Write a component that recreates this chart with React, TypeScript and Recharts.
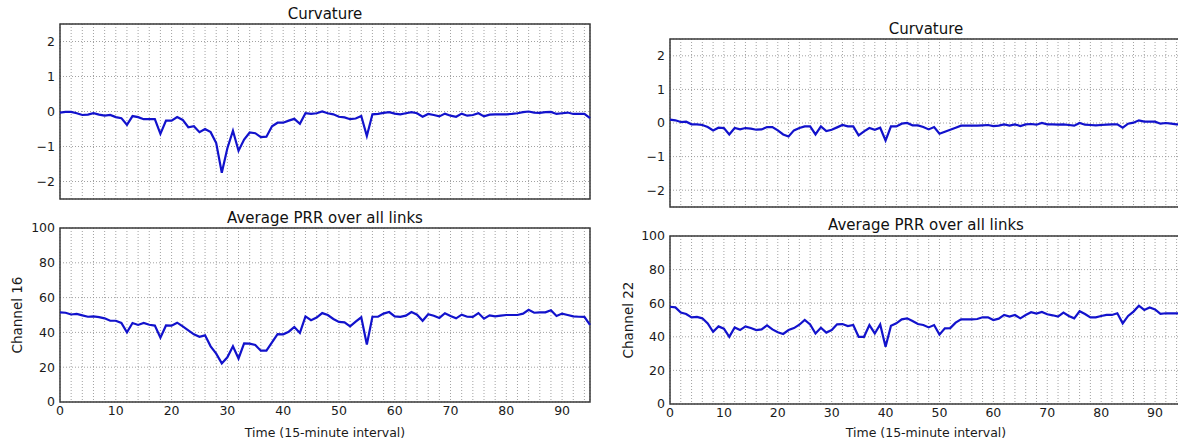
import React from "react";
import {
  LineChart,
  Line,
  XAxis,
  YAxis,
  CartesianGrid,
  ReferenceArea,
} from "recharts";

// curvature, left column (channel 16)
const curvatureCh16 = [
  -0.03, -0.01, -0.01, -0.05, -0.1, -0.09, -0.05, -0.09, -0.12, -0.1,
  -0.16, -0.19, -0.38, -0.13, -0.16, -0.22, -0.22, -0.22, -0.64, -0.26,
  -0.26, -0.16, -0.24, -0.45, -0.42, -0.59, -0.5, -0.59, -0.9, -1.75,
  -1.05, -0.55, -1.12, -0.8, -0.6, -0.62, -0.73, -0.72, -0.42, -0.32,
  -0.32, -0.26, -0.21, -0.35, -0.05, -0.07, -0.05, 0.0, -0.05, -0.08,
  -0.15, -0.17, -0.22, -0.2, -0.13, -0.7, -0.08, -0.07, -0.04, -0.02,
  -0.06, -0.08, -0.05, -0.02, -0.05, -0.15, -0.07, -0.1, -0.14, -0.06,
  -0.12, -0.15, -0.06, -0.12, -0.1, -0.05, -0.14, -0.09, -0.08, -0.08,
  -0.08, -0.07, -0.05, -0.02, 0.0, -0.03, -0.04, -0.02, -0.01, -0.07,
  -0.05, -0.03, -0.07, -0.07, -0.07, -0.19,
];

// average PRR, channel 16
const prrCh16 = [
  51.5, 51.3, 50.3, 50.6, 49.8, 49, 49.2, 48.8, 48.1, 46.7,
  46.7, 45.4, 40, 45.4, 44.3, 45.4, 44.4, 43.9, 37, 44,
  43.9, 45.6, 43.5, 41.2, 38.9, 37.5, 38.3, 32, 27.8, 22.2,
  25.7, 32, 25, 33.7, 33.5, 32.8, 29.5, 29.5, 34.3, 39,
  38.9, 40.4, 43.1, 39.7, 49.2, 47, 48.5, 51.1, 50, 47.7,
  46, 45.8, 43.5, 46.2, 48.7, 33, 49, 49, 50.8, 51.7,
  49.2, 48.9, 49.6, 51.7, 50.2, 46.7, 50.4, 49.6, 48.3, 51,
  49.4, 48.1, 50.2, 49, 48.9, 51.1, 47.9, 49.8, 49.2, 49.6,
  50, 50, 50, 50.8, 53, 51.3, 51.5, 51.5, 52.7, 49.4,
  50.8, 50, 49.2, 49, 48.9, 44.3,
];

// curvature, right column (channel 22)
const curvatureCh22 = [
  0.1, 0.08, 0.03, 0.04, -0.04, -0.04, -0.06, -0.12, -0.22, -0.14,
  -0.15, -0.34, -0.15, -0.19, -0.15, -0.17, -0.2, -0.19, -0.12, -0.12,
  -0.22, -0.34, -0.4, -0.22, -0.15, -0.1, -0.1, -0.34, -0.1, -0.24,
  -0.2, -0.13, -0.06, -0.1, -0.1, -0.37, -0.25, -0.15, -0.2, -0.14,
  -0.52, -0.1, -0.1, -0.02, 0.0, -0.07, -0.07, -0.12, -0.19, -0.12,
  -0.32, -0.26, -0.2, -0.14, -0.08, -0.08, -0.08, -0.08, -0.07, -0.06,
  -0.09, -0.08, -0.04, -0.08, -0.04, -0.09, -0.04, -0.03, -0.05, 0.0,
  -0.04, -0.04, -0.05, -0.04, -0.06, -0.08, 0.0, -0.05, -0.06, -0.07,
  -0.06, -0.05, -0.04, -0.04, -0.14, -0.02, 0.01, 0.08, 0.04, 0.04,
  0.04, -0.02, 0.0, -0.02, -0.04, -0.04,
];

// average PRR, channel 22
const prrCh22 = [
  57.9, 57.5, 54.4, 53.6, 51.6, 51.8, 51, 48, 43, 46.2,
  44.8, 40, 45.6, 44, 46.2, 45.2, 44, 44.4, 46.8, 44.4,
  42.7, 41.7, 44, 45.2, 47.2, 50, 47.4, 42, 45.4, 42.5,
  44, 47.4, 47.6, 46.4, 47, 40, 40, 47, 42, 47.4,
  34.1, 46.6, 48, 50.4, 51, 49.4, 47.6, 47, 45.6, 47,
  41.3, 45, 45.2, 48.4, 50.4, 50.4, 50.4, 50.6, 51.6, 51.6,
  50, 50.8, 53, 52, 53, 51, 53, 54.6, 53.8, 54.8,
  53.4, 52.8, 52, 54.4, 52.4, 51, 55.2, 53.6, 51.6, 51.6,
  52.4, 53, 53, 54, 48, 52.4, 55, 58.5, 56, 57.5,
  56.3, 53.6, 54, 54, 54, 54,
];

// x grid every 2 intervals, labels every 10
const xTicks = [
  0, 2, 4, 6, 8, 10, 12, 14, 16, 18, 20, 22, 24, 26, 28, 30, 32, 34, 36, 38,
  40, 42, 44, 46, 48, 50, 52, 54, 56, 58, 60, 62, 64, 66, 68, 70, 72, 74, 76,
  78, 80, 82, 84, 86, 88, 90, 92, 94,
];
const xLabelTicks = [0, 10, 20, 30, 40, 50, 60, 70, 80, 90];
const curvatureTicks = [-2, -1, 0, 1, 2];
const prrTicks = [0, 20, 40, 60, 80, 100];

const FONT = "'DejaVu Sans', Verdana, sans-serif";
const LINE = "#1212cc";
const FRAME = "#3a3a3a";

const fmtMinus = (v: number) => (v < 0 ? "\u2212" + Math.abs(v) : String(v));

type PanelProps = {
  left: number;
  top: number;
  width: number;
  height: number;
  margin: { top: number; right: number; bottom: number; left: number };
  values: number[];
  yDomain: [number, number];
  yTicks: number[];
  yAxisWidth: number;
  xAxisHeight: number;
  showX: boolean;
  yLabel?: string;
  yLabelOffset?: number;
  title: string;
  titleX: number;
  titleY: number;
};

function Panel(p: PanelProps) {
  const data = p.values.map((v, i) => ({ t: i, v }));
  return (
    <>
      <div
        style={{
          position: "absolute",
          left: p.titleX - 150,
          top: p.titleY - 9,
          width: 300,
          textAlign: "center",
          fontSize: 15,
          lineHeight: "18px",
          color: "#111",
        }}
      >
        {p.title}
      </div>
      <div style={{ position: "absolute", left: p.left, top: p.top }}>
        <LineChart width={p.width} height={p.height} data={data} margin={p.margin}>
          <CartesianGrid
            stroke="#8a8a8a"
            strokeDasharray="1 2"
            strokeWidth={0.8}
          />
          <XAxis
            dataKey="t"
            type="number"
            domain={[0, 95]}
            ticks={xTicks}
            interval={0}
            hide={!p.showX}
            height={p.xAxisHeight}
            tickLine={false}
            axisLine={false}
            tickSize={3}
            tickMargin={1}
            tickFormatter={(v: number) => (xLabelTicks.includes(v) ? String(v) : "")}
            tick={{ fill: "#1a1a1a", fontSize: 12.5 }}
            label={
              p.showX
                ? {
                    value: "Time (15-minute interval)",
                    position: "insideBottom",
                    offset: 5,
                    fill: "#1a1a1a",
                    fontSize: 12.5,
                  }
                : undefined
            }
          />
          <YAxis
            type="number"
            domain={p.yDomain}
            ticks={p.yTicks}
            interval={0}
            width={p.yAxisWidth}
            tickLine={false}
            axisLine={false}
            tickSize={3}
            tickMargin={2}
            tickFormatter={fmtMinus}
            tick={{ fill: "#1a1a1a", fontSize: 12.5 }}
            label={
              p.yLabel
                ? {
                    value: p.yLabel,
                    angle: -90,
                    position: "insideLeft",
                    offset: p.yLabelOffset,
                    fill: "#1a1a1a",
                    fontSize: 13.5,
                    style: { textAnchor: "middle" },
                  }
                : undefined
            }
          />
          <ReferenceArea
            x1={0}
            x2={95}
            y1={p.yDomain[0]}
            y2={p.yDomain[1]}
            fill="none"
            stroke={FRAME}
            strokeWidth={1.5}
          />
          <Line
            type="linear"
            dataKey="v"
            stroke={LINE}
            strokeWidth={2.2}
            dot={false}
            isAnimationActive={false}
          />
        </LineChart>
      </div>
    </>
  );
}

export default function App() {
  return (
    <div
      style={{
        position: "absolute",
        left: 0,
        top: 0,
        width: 1178,
        height: 442,
        overflow: "hidden",
        background: "#fff",
        fontFamily: FONT,
      }}
    >
      <Panel
        left={0}
        top={0}
        width={600}
        height={210}
        margin={{ top: 24, right: 10, bottom: 11, left: 0 }}
        values={curvatureCh16}
        yDomain={[-2.5, 2.5]}
        yTicks={curvatureTicks}
        yAxisWidth={60}
        xAxisHeight={0}
        showX={false}
        title="Curvature"
        titleX={325}
        titleY={14}
      />
      <Panel
        left={0}
        top={210}
        width={600}
        height={232}
        margin={{ top: 18, right: 10, bottom: 0, left: 0 }}
        values={prrCh16}
        yDomain={[0, 100]}
        yTicks={prrTicks}
        yAxisWidth={60}
        xAxisHeight={40}
        showX={true}
        yLabel="Channel 16"
        yLabelOffset={17}
        title="Average PRR over all links"
        titleX={325}
        titleY={218}
      />
      <Panel
        left={600}
        top={0}
        width={600}
        height={215}
        margin={{ top: 39, right: 18, bottom: 8, left: 0 }}
        values={curvatureCh22}
        yDomain={[-2.5, 2.5]}
        yTicks={curvatureTicks}
        yAxisWidth={70}
        xAxisHeight={0}
        showX={false}
        title="Curvature"
        titleX={926}
        titleY={29}
      />
      <Panel
        left={600}
        top={210}
        width={600}
        height={232}
        margin={{ top: 26, right: 18, bottom: 0, left: 0 }}
        values={prrCh22}
        yDomain={[0, 100]}
        yTicks={prrTicks}
        yAxisWidth={70}
        xAxisHeight={38}
        showX={true}
        yLabel="Channel 22"
        yLabelOffset={28}
        title="Average PRR over all links"
        titleX={926}
        titleY={225}
      />
    </div>
  );
}
